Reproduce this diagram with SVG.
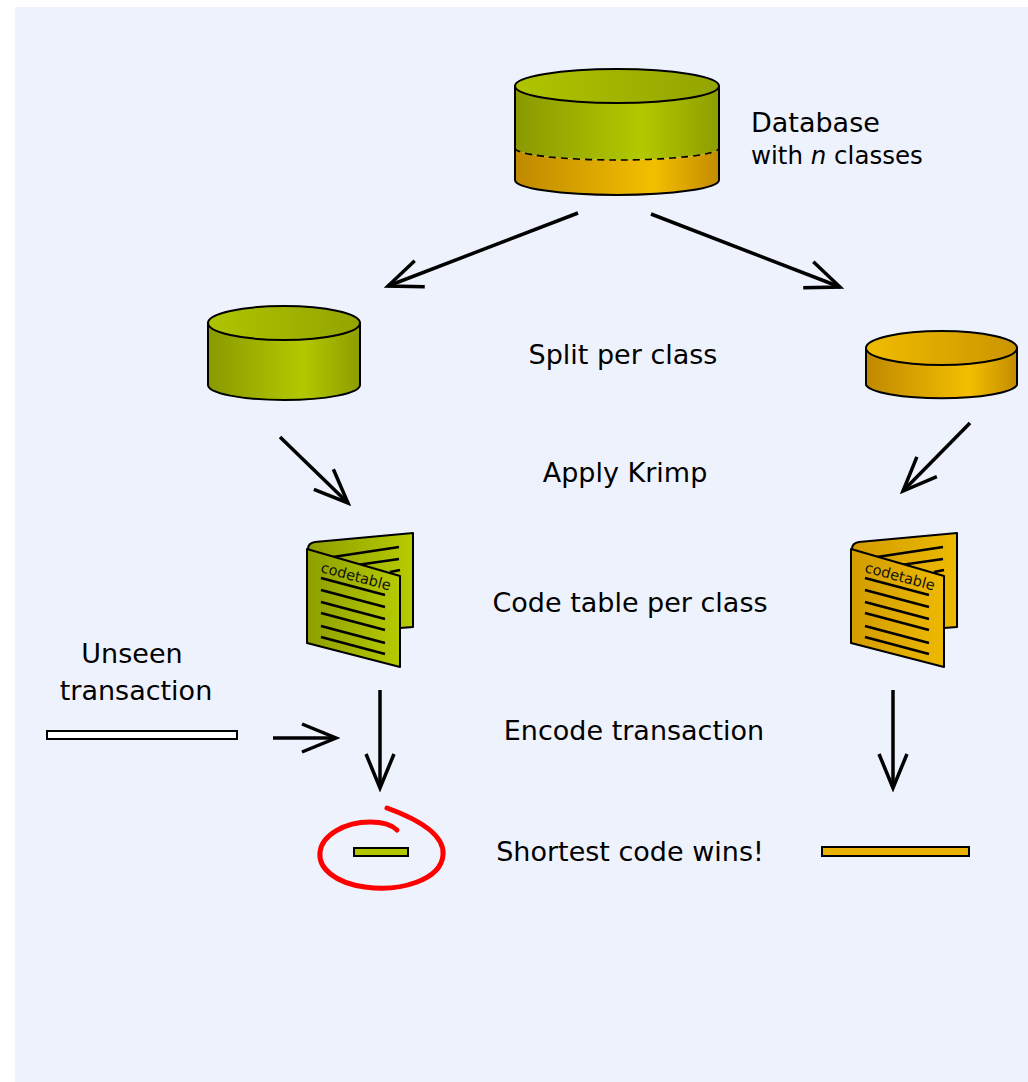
<svg xmlns="http://www.w3.org/2000/svg" width="1028" height="1082" viewBox="0 0 1028 1082">
  <style>
    .lbl { font-family: "DejaVu Sans", Verdana, sans-serif; font-size: 27px; fill: #000; }
    .edge { stroke: #000; stroke-width: 2; fill: none; }
    .conn { stroke: #000; stroke-width: 3.5; fill: none; marker-end: url(#open); }
    .rule { stroke: #000; stroke-width: 2.5; fill: none; }
    .ct { font-family: "DejaVu Sans", Verdana, sans-serif; font-size: 14.5px; fill: #111; }
  </style>
  <defs>
    <marker id="open" viewBox="-2 -2 40 32" refX="34" refY="14" markerWidth="40" markerHeight="32" markerUnits="userSpaceOnUse" orient="auto">
      <path d="M0,0 L34,14 L0,28" fill="none" stroke="#000" stroke-width="3.5" stroke-linejoin="miter"/>
    </marker>
    <linearGradient id="gSide" x1="0" x2="1" y1="0" y2="0">
      <stop offset="0" stop-color="#8A9900"/>
      <stop offset="0.62" stop-color="#B2C900"/>
      <stop offset="1" stop-color="#8E9D00"/>
    </linearGradient>
    <linearGradient id="gTop" x1="0" x2="1" y1="0" y2="0">
      <stop offset="0" stop-color="#AFC500"/>
      <stop offset="1" stop-color="#93A400"/>
    </linearGradient>
    <linearGradient id="oSide" x1="0" x2="1" y1="0" y2="0">
      <stop offset="0" stop-color="#BF8900"/>
      <stop offset="0.68" stop-color="#F3BF00"/>
      <stop offset="1" stop-color="#C38C00"/>
    </linearGradient>
    <linearGradient id="oTop" x1="0" x2="1" y1="0" y2="0">
      <stop offset="0" stop-color="#F0BC00"/>
      <stop offset="1" stop-color="#CB9500"/>
    </linearGradient>
    <linearGradient id="gPage" x1="0" x2="1" y1="0" y2="0">
      <stop offset="0" stop-color="#8E9E00"/>
      <stop offset="1" stop-color="#B6CB00"/>
    </linearGradient>
    <linearGradient id="oPage" x1="0" x2="1" y1="0" y2="0">
      <stop offset="0" stop-color="#D29C00"/>
      <stop offset="1" stop-color="#EDB900"/>
    </linearGradient>
  </defs>

  <!-- panel -->
  <rect x="0" y="0" width="1028" height="1082" fill="#FFFFFF"/>
  <rect x="15" y="7" width="1013" height="1075" fill="#EEF2FD"/>

  <!-- database with n classes -->
  <g id="database">
    <path d="M515,86 A102,17 0 0 0 719,86 L719,148 A102,12 0 0 1 515,148 Z" fill="url(#gSide)"/>
    <path d="M515,148 A102,12 0 0 0 719,148 L719,180 A102,15 0 0 1 515,180 Z" fill="url(#oSide)"/>
    <path d="M515,148 A102,12 0 0 0 719,148" fill="none" stroke="#000" stroke-width="1.6" stroke-dasharray="7,5"/>
    <path class="edge" d="M515,86 L515,180 A102,15 0 0 0 719,180 L719,86"/>
    <ellipse cx="617" cy="86" rx="102" ry="17" fill="url(#gTop)" stroke="#000" stroke-width="2"/>
  </g>
  <text class="lbl" x="751" y="132">Database</text>
  <text class="lbl" x="751" y="164" style="font-size:24.5px">with <tspan font-style="italic">n</tspan> classes</text>

  <!-- class databases -->
  <g id="class-a-db">
    <path d="M208,323 L208,385 A76,15 0 0 0 360,385 L360,323 Z" fill="url(#gSide)" stroke="#000" stroke-width="2"/>
    <ellipse cx="284" cy="323" rx="76" ry="17" fill="url(#gTop)" stroke="#000" stroke-width="2"/>
  </g>
  <g id="class-b-db">
    <path d="M866,348 L866,385 A76,15 0 0 0 1017,385 L1017,348 Z" fill="url(#oSide)" stroke="#000" stroke-width="2"/>
    <ellipse cx="941.5" cy="348" rx="75.5" ry="17" fill="url(#oTop)" stroke="#000" stroke-width="2"/>
  </g>

  <!-- code tables -->
  <g id="class-a-codetable">
    <path d="M308,549 Q308,543 315,542 L413,533 L413,627 L400,628 Z" fill="url(#gPage)" stroke="#000" stroke-width="2" stroke-linejoin="round"/>
    <path class="rule" d="M333,557 L399,547 M357,565 L399,559 M390,572 L400,570"/>
    <path d="M307,549 L400,576 L400,667 L307,643 Z" fill="url(#gPage)" stroke="#000" stroke-width="2" stroke-linejoin="round"/>
    <text class="ct" x="320" y="572" transform="rotate(15 320 572)">codetable</text>
    <path class="rule" d="M321,578 L385,595 M321,590 L385,607 M321,602 L385,619 M321,613 L385,630 M321,626 L385,643 M321,637 L385,654"/>
  </g>
  <g id="class-b-codetable" transform="translate(544,0)">
    <path d="M308,549 Q308,543 315,542 L413,533 L413,627 L400,628 Z" fill="url(#oPage)" stroke="#000" stroke-width="2" stroke-linejoin="round"/>
    <path class="rule" d="M333,557 L399,547 M357,565 L399,559 M390,572 L400,570"/>
    <path d="M307,549 L400,576 L400,667 L307,643 Z" fill="url(#oPage)" stroke="#000" stroke-width="2" stroke-linejoin="round"/>
    <text class="ct" x="320" y="572" transform="rotate(15 320 572)">codetable</text>
    <path class="rule" d="M321,578 L385,595 M321,590 L385,607 M321,602 L385,619 M321,613 L385,630 M321,626 L385,643 M321,637 L385,654"/>
  </g>

  <!-- unseen transaction -->
  <g id="unseen">
    <rect x="47" y="731" width="190" height="8" fill="#FFFFFF" stroke="#000" stroke-width="2"/>
  </g>
  <text class="lbl" x="132" y="663" text-anchor="middle">Unseen</text>
  <text class="lbl" x="136" y="700" text-anchor="middle">transaction</text>

  <!-- encoded results -->
  <g id="class-a-code">
    <rect x="354" y="848" width="54" height="8" fill="#B2C600" stroke="#000" stroke-width="2"/>
    <path d="M387,808 C420,820 445,835 443,855 C441,880 400,892 365,887 C335,883 318,868 320,852 C322,835 345,822 370,822 C385,822 393,826 397,830" fill="none" stroke="#FF0000" stroke-width="5" stroke-linecap="round"/>
  </g>
  <g id="class-b-code">
    <rect x="822" y="847" width="147" height="9" fill="#EAB200" stroke="#000" stroke-width="2"/>
  </g>

  <!-- connectors -->
  <g id="connectors">
    <line class="conn" x1="578" y1="213" x2="388" y2="286"/>
    <line class="conn" x1="651" y1="214" x2="840" y2="287"/>
    <line class="conn" x1="280" y1="437" x2="348" y2="503"/>
    <line class="conn" x1="970" y1="423" x2="903" y2="491"/>
    <line class="conn" x1="380" y1="690" x2="380" y2="788"/>
    <line class="conn" x1="893" y1="690" x2="893" y2="788"/>
    <line class="conn" x1="273" y1="738" x2="336" y2="738"/>
  </g>

  <!-- step labels -->
  <text class="lbl" x="623" y="364" text-anchor="middle">Split per class</text>
  <text class="lbl" x="625" y="482" text-anchor="middle">Apply Krimp</text>
  <text class="lbl" x="630" y="612" text-anchor="middle">Code table per class</text>
  <text class="lbl" x="634" y="740" text-anchor="middle">Encode transaction</text>
  <text class="lbl" x="630" y="861" text-anchor="middle">Shortest code wins!</text>
</svg>
